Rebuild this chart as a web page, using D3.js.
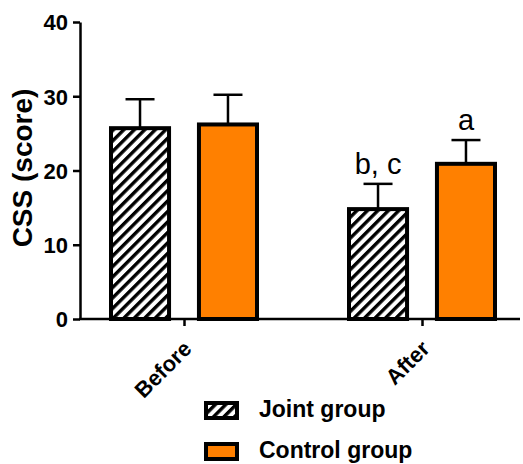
<!DOCTYPE html>
<html>
<head>
<meta charset="utf-8">
<script src="https://cdn.jsdelivr.net/npm/d3@7"></script>
<style>
  body { margin: 0; background: #fff; }
  text { font-family: "Liberation Sans", Arial, sans-serif; }
</style>
</head>
<body>
<div id="chart"></div>
<script>
// data
var phases = ["Before", "After"];
var groups = ["Joint group", "Control group"];
var means = [[25.7, 26.2], [14.8, 20.9]];   // [phase][group]
var upper = [[29.6, 30.2], [18.2, 24.1]];   // mean + SD
var letters = [["", ""], ["b, c", "a"]];
var yTicks = [0, 10, 20, 30, 40];

var svgWidth = 523, svgHeight = 464;
var colours = { "Joint group": "url(#hatch)", "Control group": "#FF8000" };

svg = d3.select("#chart").append("svg").attr("width", svgWidth + "px").attr("height", svgHeight + "px");

// hatch pattern for the joint group
var defs = svg.append("defs");
defs.append("pattern")
    .attr("id", "hatch")
    .attr("patternUnits", "userSpaceOnUse")
    .attr("width", 7.4).attr("height", 7.4)
    .attr("patternTransform", "rotate(45)")
  .append("rect")
    .attr("x", 0).attr("y", 0)
    .attr("width", 3.4).attr("height", 7.4)
    .attr("fill", "black");

var y = d3.scaleLinear().domain([0, 40]).range([319, 22]);
var x = d3.scalePoint().domain(phases).range([184, 422]);
var xSub = d3.scaleBand().domain(groups).range([-73, 73]).paddingInner(0.34);

// y axis
var yAxis = svg.append("g")
    .attr("transform", "translate(80,0)")
    .call(d3.axisLeft(y).tickValues(yTicks).tickSize(7).tickSizeOuter(0));
yAxis.select(".domain").attr("stroke-width", 2.5);
yAxis.selectAll(".tick line").attr("stroke-width", 2.5);
yAxis.selectAll(".tick text")
    .style("font-size", "22px").style("font-weight", "bold")
    .attr("fill", "black").attr("x", -12).attr("dy", "0.36em");

// x axis
var xAxis = svg.append("g")
    .attr("transform", "translate(0," + y(0) + ")")
    .call(d3.axisBottom(x).tickSize(7).tickSizeOuter(0));
xAxis.select(".domain").remove();
xAxis.append("line")
    .attr("x1", 79).attr("x2", 520)
    .attr("stroke", "black").attr("stroke-width", 2.5);
xAxis.selectAll(".tick line").attr("stroke-width", 2.5);
xAxis.selectAll(".tick text").remove();

phases.forEach(function (p) {
    svg.append("text")
        .attr("transform", "translate(" + (x(p) + 9) + ",350) rotate(-45)")
        .attr("text-anchor", "end")
        .style("font-size", "22px").style("font-weight", "bold")
        .text(p);
});

// bars, error bars, letters
phases.forEach(function (p, i) {
    groups.forEach(function (g, j) {
        var cx = x(p) + xSub(g) + xSub.bandwidth() / 2;
        svg.append("line")
            .attr("x1", cx).attr("x2", cx)
            .attr("y1", y(means[i][j])).attr("y2", y(upper[i][j]))
            .attr("stroke", "black").attr("stroke-width", 2.5);
        svg.append("line")
            .attr("x1", cx - 14.5).attr("x2", cx + 14.5)
            .attr("y1", y(upper[i][j])).attr("y2", y(upper[i][j]))
            .attr("stroke", "black").attr("stroke-width", 2.5);
        svg.append("rect")
            .attr("x", x(p) + xSub(g))
            .attr("y", y(means[i][j]))
            .attr("width", xSub.bandwidth())
            .attr("height", y(0) - y(means[i][j]))
            .attr("fill", colours[g])
            .attr("stroke", "black").attr("stroke-width", 4);
        if (letters[i][j]) {
            svg.append("text")
                .attr("x", cx)
                .attr("y", y(upper[i][j]) - 10)
                .attr("text-anchor", "middle")
                .style("font-size", "29px")
                .text(letters[i][j]);
        }
    });
});

// y title
svg.append("text")
    .attr("transform", "translate(32,168) rotate(-90)")
    .attr("text-anchor", "middle")
    .style("font-size", "28px").style("font-weight", "bold")
    .text("CSS (score)");

// legend
groups.forEach(function (g, k) {
    svg.append("rect")
        .attr("x", 206).attr("y", 403 + k * 41)
        .attr("width", 31).attr("height", 15)
        .attr("fill", colours[g])
        .attr("stroke", "black").attr("stroke-width", 4);
    svg.append("text")
        .attr("x", 259).attr("y", 417 + k * 41)
        .style("font-size", "23px").style("font-weight", "bold")
        .text(g);
});
</script>
</body>
</html>
